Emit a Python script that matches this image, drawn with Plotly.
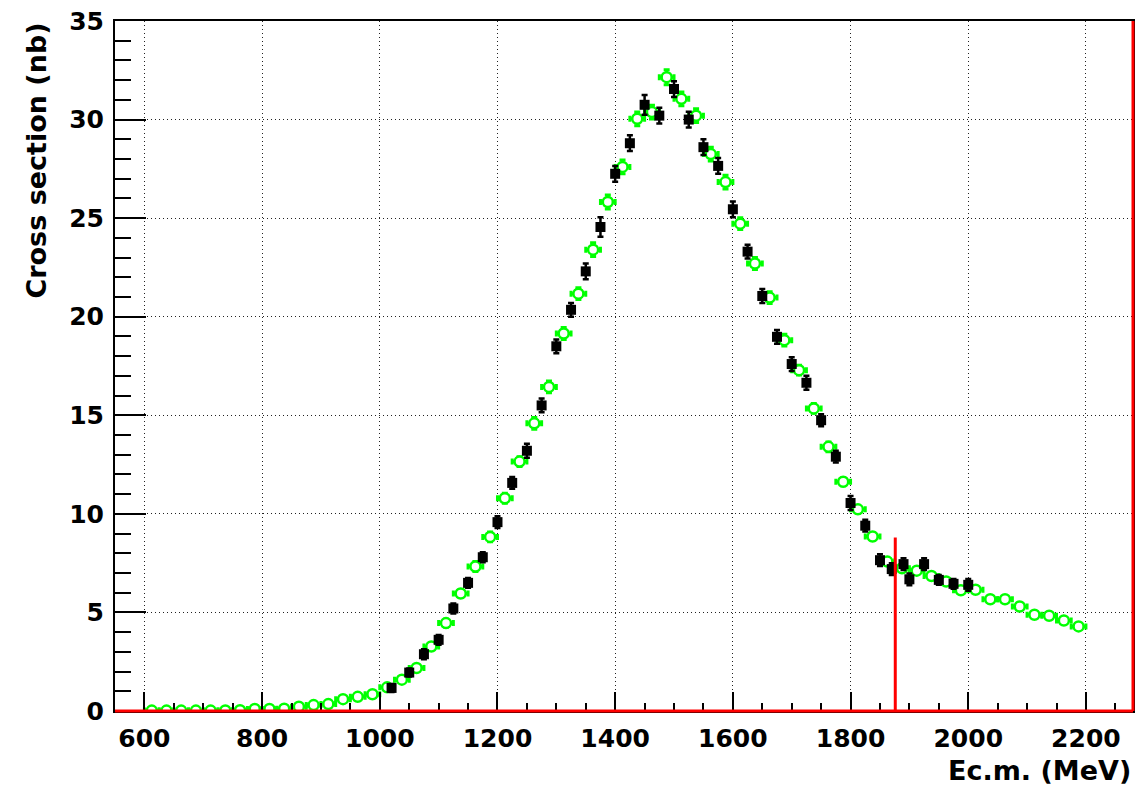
import plotly.graph_objects as go

# ---- data ----
green_E = [612.5, 637.5, 662.5, 687.5, 712.5, 737.5, 762.5, 787.5, 812.5, 837.5,
           862.5, 887.5, 912.5, 937.5, 962.5, 987.5, 1012.5, 1037.5, 1062.5, 1087.5,
           1112.5, 1137.5, 1162.5, 1187.5, 1212.5, 1237.5, 1262.5, 1287.5, 1312.5, 1337.5,
           1362.5, 1387.5, 1412.5, 1437.5, 1462.5, 1487.5, 1512.5, 1537.5, 1562.5, 1587.5,
           1612.5, 1637.5, 1662.5, 1687.5, 1712.5, 1737.5, 1762.5, 1787.5, 1812.5, 1837.5,
           1862.5, 1887.5, 1912.5, 1937.5, 1962.5, 1987.5, 2012.5, 2037.5, 2062.5, 2087.5,
           2112.5, 2137.5, 2162.5, 2187.5]
green_xs = [0.02, 0.02, 0.02, 0.02, 0.02, 0.03, 0.04, 0.1, 0.1, 0.12,
            0.22, 0.3, 0.35, 0.6, 0.72, 0.85, 1.2, 1.59, 2.18, 3.27,
            4.46, 5.96, 7.33, 8.83, 10.79, 12.65, 14.59, 16.44, 19.15, 21.17,
            23.4, 25.82, 27.6, 30.04, 30.38, 32.15, 31.05, 30.2, 28.25, 26.83,
            24.72, 22.7, 20.97, 18.81, 17.29, 15.35, 13.4, 11.63, 10.23, 8.85,
            7.58, 7.24, 7.12, 6.85, 6.57, 6.12, 6.15, 5.67, 5.67, 5.3,
            4.88, 4.83, 4.59, 4.29]
green_err = [0.05, 0.05, 0.05, 0.05, 0.05, 0.05, 0.05, 0.05, 0.05, 0.05,
             0.08, 0.08, 0.08, 0.1, 0.1, 0.1, 0.12, 0.15, 0.15, 0.18,
             0.2, 0.2, 0.25, 0.25, 0.25, 0.25, 0.3, 0.3, 0.3, 0.3,
             0.35, 0.35, 0.35, 0.35, 0.35, 0.38, 0.35, 0.35, 0.35, 0.35,
             0.3, 0.3, 0.3, 0.3, 0.25, 0.25, 0.25, 0.2, 0.2, 0.2,
             0.15, 0.15, 0.15, 0.15, 0.15, 0.15, 0.15, 0.15, 0.15, 0.15,
             0.15, 0.15, 0.15, 0.15]

black_E = [1020, 1050, 1075, 1100, 1125, 1150, 1175, 1200, 1225, 1250,
           1275, 1300, 1325, 1350, 1375, 1400, 1425, 1450, 1475, 1500,
           1525, 1550, 1575, 1600, 1625, 1650, 1675, 1700, 1725, 1750,
           1775, 1800, 1825, 1850, 1870, 1890, 1900, 1925, 1950, 1975, 2000]
black_xs = [1.17, 1.95, 2.88, 3.61, 5.2, 6.5, 7.8, 9.58, 11.57, 13.2,
            15.5, 18.5, 20.35, 22.3, 24.55, 27.25, 28.8, 30.75, 30.2, 31.55,
            30.0, 28.6, 27.65, 25.45, 23.3, 21.05, 18.98, 17.6, 16.65, 14.75,
            12.9, 10.55, 9.4, 7.65, 7.2, 7.45, 6.68, 7.45, 6.65, 6.45, 6.4]
black_err = [0.2, 0.2, 0.25, 0.25, 0.25, 0.25, 0.25, 0.3, 0.3, 0.35,
             0.35, 0.35, 0.35, 0.4, 0.5, 0.4, 0.4, 0.5, 0.4, 0.4,
             0.4, 0.4, 0.4, 0.4, 0.35, 0.35, 0.35, 0.35, 0.35, 0.3,
             0.3, 0.35, 0.3, 0.3, 0.3, 0.3, 0.3, 0.3, 0.25, 0.25, 0.3]

threshold_E = 1876
threshold_top = 8.8

x_ticks = [600, 800, 1000, 1200, 1400, 1600, 1800, 2000, 2200]
y_ticks = [0, 5, 10, 15, 20, 25, 30, 35]

GREEN = "#00ff00"
FONT = "DejaVu Sans"

fig = go.Figure()
fig.add_trace(go.Scatter(
    x=green_E, y=green_xs, mode="markers",
    marker=dict(symbol="circle", size=10, color="white", line=dict(color=GREEN, width=2.5)),
    error_x=dict(type="constant", value=12.5, color=GREEN, thickness=3, width=3),
    error_y=dict(type="data", array=green_err, color=GREEN, thickness=3, width=3),
    showlegend=False, hoverinfo="x+y"))
fig.add_trace(go.Scatter(
    x=black_E, y=black_xs, mode="markers",
    marker=dict(symbol="square", size=10, color="black", line=dict(width=0)),
    error_y=dict(type="data", array=black_err, color="black", thickness=2.5, width=3),
    showlegend=False, hoverinfo="x+y"))

fig.add_shape(type="line", xref="x", yref="y", x0=threshold_E, x1=threshold_E,
              y0=0, y1=threshold_top, line=dict(color="red", width=3), layer="above")
fig.add_shape(type="line", xref="paper", yref="paper", x0=0, x1=1, y0=0, y1=0,
              line=dict(color="red", width=3), layer="above")
fig.add_shape(type="line", xref="paper", yref="paper", x0=1, x1=1, y0=0, y1=1,
              line=dict(color="red", width=3), layer="above")

fig.update_xaxes(
    range=[550, 2280], tickmode="array", tickvals=x_ticks,
    ticktext=[str(v) for v in x_ticks],
    ticks="inside", ticklen=19, tickwidth=2, tickcolor="black",
    minor=dict(dtick=50, tick0=600, ticks="inside", ticklen=8, tickwidth=2, tickcolor="black",
               showgrid=False),
    showline=True, linecolor="black", linewidth=2, mirror=True,
    showgrid=True, gridcolor="#222", gridwidth=1, griddash="1px,3px",
    zeroline=False, ticklabelstandoff=4,
    tickfont=dict(family=FONT, size=25, color="black", weight="bold"))
fig.update_yaxes(
    range=[0, 35], tickmode="array", tickvals=y_ticks,
    ticktext=[str(v) for v in y_ticks],
    ticks="inside", ticklen=31, tickwidth=2, tickcolor="black",
    minor=dict(dtick=1, tick0=0, ticks="inside", ticklen=16, tickwidth=2, tickcolor="black",
               showgrid=False),
    showline=True, linecolor="black", linewidth=2, mirror=True,
    showgrid=True, gridcolor="#222", gridwidth=1, griddash="1px,3px",
    zeroline=False, ticklabelstandoff=4,
    tickfont=dict(family=FONT, size=25, color="black", weight="bold"))

fig.add_annotation(text="<b>Ec.m. (MeV)</b>", xref="paper", yref="paper",
                   x=1, y=-0.086, xanchor="right", yanchor="middle", showarrow=False,
                   font=dict(family=FONT, size=27, color="black"))
fig.add_annotation(text="<b>Cross section (nb)</b>", xref="paper", yref="paper",
                   x=-0.078, y=1.0, xanchor="center", yanchor="top", textangle=-90,
                   showarrow=False, font=dict(family=FONT, size=27, color="black"))

fig.update_layout(
    width=1140, height=788,
    margin=dict(l=115, r=5, t=21, b=77),
    paper_bgcolor="white", plot_bgcolor="white",
    showlegend=False)

fig.write_html("out.html")
